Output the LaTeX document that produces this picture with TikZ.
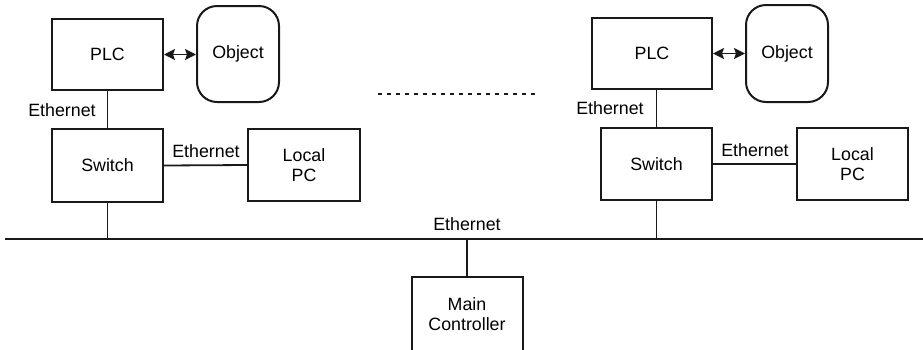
\documentclass[tikz,border=0pt]{standalone}
\usepackage{fontspec}
\setmainfont{Liberation Sans}
\usetikzlibrary{arrows.meta}
\begin{document}
\begin{tikzpicture}[x=1pt,y=-1pt,
  box/.style={draw=black!90,line width=2pt,minimum width=#1,inner sep=0pt,align=center,font=\fontsize{17.8}{20.5}\selectfont},
  obj/.style={draw=black!90,line width=2pt,rounded corners=20pt,minimum width=82pt,minimum height=96pt,inner sep=0pt,font=\fontsize{17.8}{20.5}\selectfont},
  lbl/.style={font=\fontsize{17.8}{20.5}\selectfont,inner sep=0pt},
  wire/.style={draw=black!90,line width=1.8pt},
  biarrow/.style={wire,{Stealth[length=11pt,width=11pt,inset=2pt]}-{Stealth[length=11pt,width=11pt,inset=2pt]}}]
\useasboundingbox (0,0) rectangle (923,349);
\clip (0,0) rectangle (923,349);
% left group
\node[box=111pt,minimum height=71pt] (plc1) at (107.5,54.5) {PLC};
\node[obj] (obj1) at (238,54) {Object};
\node[box=111pt,minimum height=73pt] (sw1) at (107.5,165.5) {Switch};
\node[box=112pt,minimum height=72pt] (pc1) at (304,165) {Local\\PC};
% right group
\node[box=120pt,minimum height=71pt] (plc2) at (652,53.5) {PLC};
\node[obj,minimum height=97pt] (obj2) at (787,53.5) {Object};
\node[box=111pt,minimum height=72pt] (sw2) at (656.5,164) {Switch};
\node[box=111pt,minimum height=72pt] (pc2) at (852.5,164) {Local\\PC};
% main controller
\node[box=111pt,minimum height=74pt] (main) at (467,314) {Main\\Controller};
% bus
\coordinate (busL) at (5,239);
\coordinate (busR) at (923,239);
\draw[wire] (busL) -- (busR);
% connectors
\draw[biarrow] (plc1.east) -- (obj1.west |- plc1.east);
\draw[biarrow] (plc2.east) -- (obj2.west |- plc2.east);
\draw[wire] (plc1.south) -- (sw1.north);
\draw[wire] (sw2.north) -- (sw2.north |- plc2.south);
\draw[wire] (sw1.east) -- (pc1.west);
\draw[wire] (sw2.east) -- (pc2.west);
\draw[wire] (sw1.south) -- (sw1.south |- busL);
\draw[wire] (sw2.south) -- (sw2.south |- busL);
\draw[wire] (main.north) -- (main.north |- busL);
% labels
\node[lbl] (e1) at (62,110) {Ethernet};
\node[lbl] (e2) at (206,151) {Ethernet};
\node[lbl] (e3) at (610,108) {Ethernet};
\node[lbl] (e4) at (755,150) {Ethernet};
\node[lbl] (e5) at (467,224) {Ethernet};
% dots
\coordinate (d1) at (378,94);
\coordinate (d2) at (538,94);
\draw[draw=black!90,line width=2.2pt,dash pattern=on 4pt off 5pt] (d1) -- (d2);
\end{tikzpicture}
\end{document}
